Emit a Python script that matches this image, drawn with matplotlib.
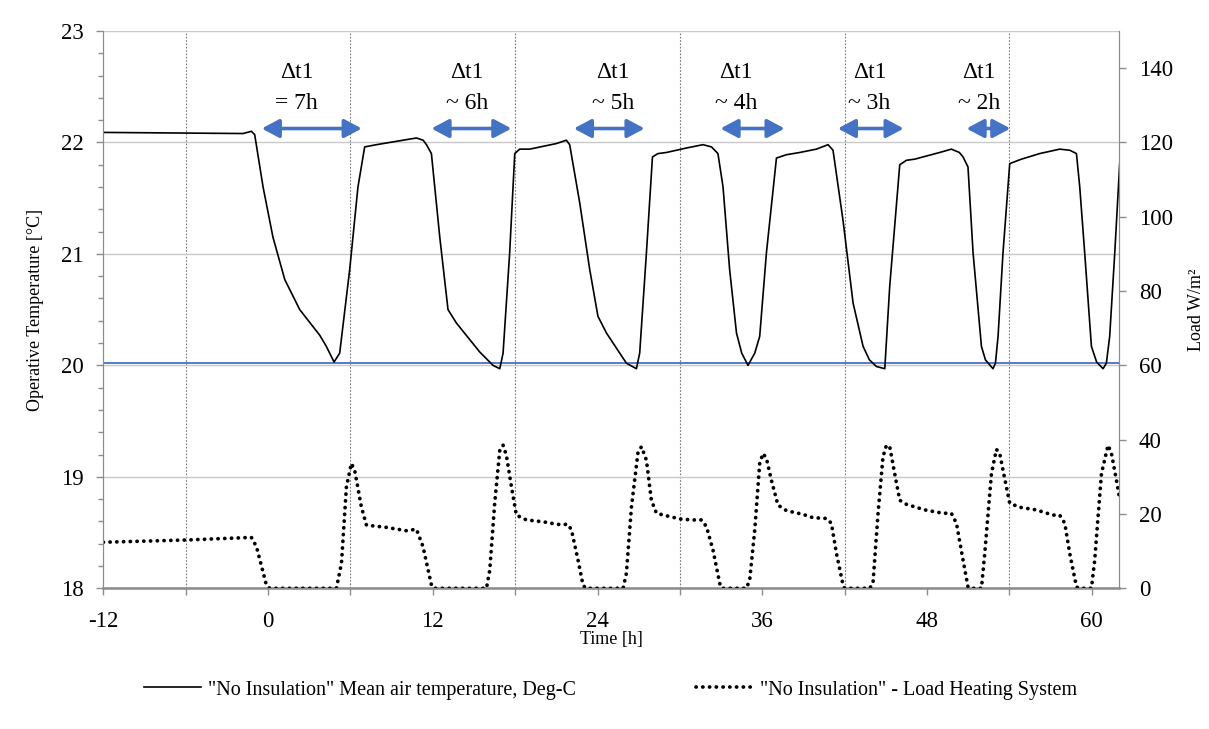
import numpy as np
import matplotlib
matplotlib.use("Agg")
import matplotlib.pyplot as plt
from matplotlib.ticker import MultipleLocator

plt.rcParams['font.family'] = ['Liberation Serif', 'DejaVu Serif']
plt.rcParams['axes.unicode_minus'] = False

## ************      Data       ******************************************
# mean air temperature [deg C] vs time [h]
t_hours = [-12.0, -1.82, -1.21, -0.97, -0.36, 0.36, 1.22, 2.31, 3.77, 4.25, 4.81, 5.22,
           5.95, 6.55, 7.04, 7.90, 9.83, 10.81, 11.30, 11.54, 11.90, 12.51, 13.11, 13.72, 15.42,
           16.39, 16.88, 17.12, 17.60, 17.97, 18.33, 19.06, 21.00, 21.73, 21.97, 22.70,
           23.43, 24.03, 24.65, 26.10, 26.83, 27.07, 27.56, 28.00, 28.40, 29.02, 30.47,
           31.68, 32.30, 32.77, 33.14, 33.62, 34.12, 34.50, 34.96, 35.45, 35.81, 36.30, 37.03,
           37.76, 38.73, 39.94, 40.79, 41.15, 41.88, 42.61, 43.34, 43.80, 44.31, 44.92,
           45.28, 46.01, 46.50, 47.10, 48.92, 49.77, 50.35, 50.62, 50.98, 51.35, 51.96,
           52.25, 52.80, 52.98, 53.17, 53.53, 54.02, 54.87, 56.20, 57.66, 58.40, 58.88,
           59.12, 59.48, 59.97, 60.35, 60.82, 61.06, 61.30, 61.67, 62.03]
temp = [22.09, 22.08, 22.10, 22.07, 21.60, 21.15, 20.77, 20.50, 20.27, 20.17, 20.03, 20.11,
        20.86, 21.60, 21.96, 21.98, 22.02, 22.04, 22.02, 21.98, 21.90, 21.15, 20.50, 20.38, 20.12,
        20.00, 19.97, 20.11, 21.01, 21.90, 21.94, 21.94, 21.99, 22.02, 21.98, 21.46,
        20.86, 20.44, 20.29, 20.02, 19.97, 20.11, 21.01, 21.87, 21.90, 21.91, 21.95,
        21.98, 21.96, 21.90, 21.60, 20.86, 20.29, 20.11, 20.00, 20.11, 20.26, 21.01, 21.86,
        21.89, 21.91, 21.94, 21.98, 21.93, 21.30, 20.56, 20.17, 20.05, 19.99, 19.97,
        20.71, 21.80, 21.84, 21.85, 21.91, 21.94, 21.91, 21.87, 21.78, 21.01, 20.17,
        20.05, 19.97, 20.02, 20.26, 21.01, 21.81, 21.85, 21.90, 21.94, 21.93, 21.90,
        21.60, 21.01, 20.17, 20.03, 19.97, 20.02, 20.26, 21.01, 21.81]

# heating system load [W/m2] vs time [h]
t_load = [-12.0, -5.94, -1.21, -0.84, -0.12, 0.12, 4.98, 5.35, 5.71, 6.07, 6.31, 6.80,
          7.17, 8.62, 10.08, 10.81, 11.29, 11.90, 12.07, 15.91, 16.15, 16.51, 16.88,
          17.12, 17.36, 17.73, 18.09, 18.82, 20.03, 21.12, 21.85, 22.10, 22.58, 22.94,
          23.14, 25.86, 26.10, 26.47, 26.95, 27.20, 27.56, 27.92, 28.29, 29.26, 30.11,
          30.95, 31.57, 31.93, 32.41, 32.90, 33.04, 34.84, 35.08, 35.45, 35.81, 36.05,
          36.30, 36.66, 37.14, 37.76, 38.97, 39.69, 40.67, 41.03, 41.40, 41.88, 42.00,
          43.82, 44.06, 44.43, 44.79, 45.04, 45.28, 45.64, 46.01, 46.50, 47.83, 49.16,
          49.77, 50.14, 50.62, 50.98, 51.10, 51.96, 52.20, 52.69, 53.05, 53.29, 53.65,
          54.02, 54.75, 55.96, 57.17, 57.66, 58.03, 58.39, 58.88, 59.05, 59.97, 60.21,
          60.70, 61.18, 61.43, 61.79, 61.98]
load = [12.4, 13.0, 13.7, 11.2, 0.9, 0.0, 0.0, 6.7, 27.3, 33.6, 31.8, 21.9,
        17.0, 16.4, 15.5, 15.9, 11.2, 0.9, 0.0, 0.0, 4.9, 22.9, 37.2,
        38.5, 35.8, 27.3, 19.7, 18.4, 17.9, 17.2, 17.2, 15.7, 7.6, 0.9,
        0.0, 0.0, 4.0, 21.9, 36.7, 38.1, 34.5, 23.7, 20.2, 19.3, 18.6,
        18.4, 18.4, 16.6, 10.3, 1.3, 0.0, 0.0, 2.2, 15.7, 33.6, 36.3,
        35.0, 29.1, 22.4, 20.9, 19.9, 19.0, 18.8, 17.5, 9.4, 0.9, 0.0,
        0.0, 1.3, 20.2, 35.4, 38.5, 38.1, 30.9, 23.7, 22.6, 21.1, 20.2,
        20.2, 17.5, 7.6, 0.4, 0.0, 0.0, 9.4, 30.9, 37.4, 36.3, 29.6,
        22.9, 21.8, 21.1, 19.7, 19.7, 17.5, 9.4, 0.4, 0.0, 0.0, 7.6,
        30.9, 38.5, 36.3, 29.1, 25.1]

setpoint = 20.02

# delta t1 annotations: arrow start/end [h], label x [h], second line
arrow_start = [-0.46, 11.9, 22.27, 32.95, 41.5, 50.87]
arrow_end = [6.83, 17.73, 27.43, 37.63, 46.3, 54.07]
label_x = [2.1, 14.5, 25.1, 34.1, 43.8, 51.8]
label_txt = ["= 7h", "~ 6h", "~ 5h", "~ 4h", "~ 3h", "~ 2h"]

blue = "#4472C4"
grid_grey = "#c8c8c8"
spine_grey = "#8c8c8c"

fig = plt.figure(figsize=(12.09, 7.29), dpi=100)
ax = fig.add_axes([0.0854, 0.193, 0.8404, 0.7645])
ax2 = ax.twinx()

l1, = ax.plot(t_hours, temp, color="black", lw=1.2, zorder=4)
ax.axhline(setpoint, color=blue, lw=1.3, zorder=3)
l2, = ax2.plot(t_load, load, color="black", lw=2.7,
               linestyle=(0, (0.05, 1.75)), dash_capstyle="round")

ax.set_xlim(-12, 62)
ax.set_ylim(18, 23)
ax2.set_ylim(0, 150)

ax.xaxis.set_major_locator(MultipleLocator(12))
ax.xaxis.set_minor_locator(MultipleLocator(6))
ax.yaxis.set_major_locator(MultipleLocator(1))
ax.yaxis.set_minor_locator(MultipleLocator(0.2))
ax2.set_yticks(np.arange(0, 141, 20))

ax.grid(axis="y", which="major", color=grid_grey, lw=1.0, zorder=0)
# dotted verticals on the 6h marks
for xv in np.arange(-6, 61, 12):
    ax.axvline(xv, color="#777777", lw=0.8, linestyle=(0, (1.5, 1.5)), zorder=1)

for a in (ax, ax2):
    for s in a.spines.values():
        s.set_color(spine_grey)
    a.spines["top"].set_visible(False)
ax.spines["bottom"].set_linewidth(1.8)

ax.tick_params(axis="y", which="major", direction="out", length=5, width=1,
               color=spine_grey, labelsize=16.5, pad=9)
ax.tick_params(axis="y", which="minor", direction="out", length=3.5, width=1,
               color=spine_grey)
ax.tick_params(axis="x", which="both", direction="out", length=5, width=1,
               color=spine_grey, labelsize=16.5, pad=11)
ax2.tick_params(axis="y", direction="out", length=5, width=1,
                color=spine_grey, labelsize=16.5, pad=9)

ax.set_ylabel("Operative Temperature [°C]", fontsize=13)
ax.yaxis.set_label_coords(-0.058, 0.5)
ax2.set_ylabel("Load W/m²", fontsize=13)
ax2.yaxis.set_label_coords(1.068, 0.5)
ax.set_xlabel("Time [h]", fontsize=13)
ax.xaxis.set_label_coords(0.5, -0.077)

for x1, x2, lx, txt in zip(arrow_start, arrow_end, label_x, label_txt):
    ax.annotate("", xy=(x2, 22.125), xytext=(x1, 22.125),
                arrowprops=dict(arrowstyle="<|-|>,head_length=0.75,head_width=0.4",
                                color=blue, lw=2.6, mutation_scale=14,
                                shrinkA=0, shrinkB=0), zorder=5)
    ax.text(lx, 22.63, "Δt1", ha="center", va="center", fontsize=17)
    ax.text(lx, 22.35, txt, ha="center", va="center", fontsize=17)

fig.legend([l1, l2], ['"No Insulation" Mean air temperature, Deg-C',
                      '"No Insulation" - Load Heating System'],
           loc="center", bbox_to_anchor=(0.505, 0.0535), ncol=2, frameon=False,
           fontsize=14.5, handlelength=2.8, columnspacing=6.0, handletextpad=0.35)

fig.savefig("out.png", dpi=100)
